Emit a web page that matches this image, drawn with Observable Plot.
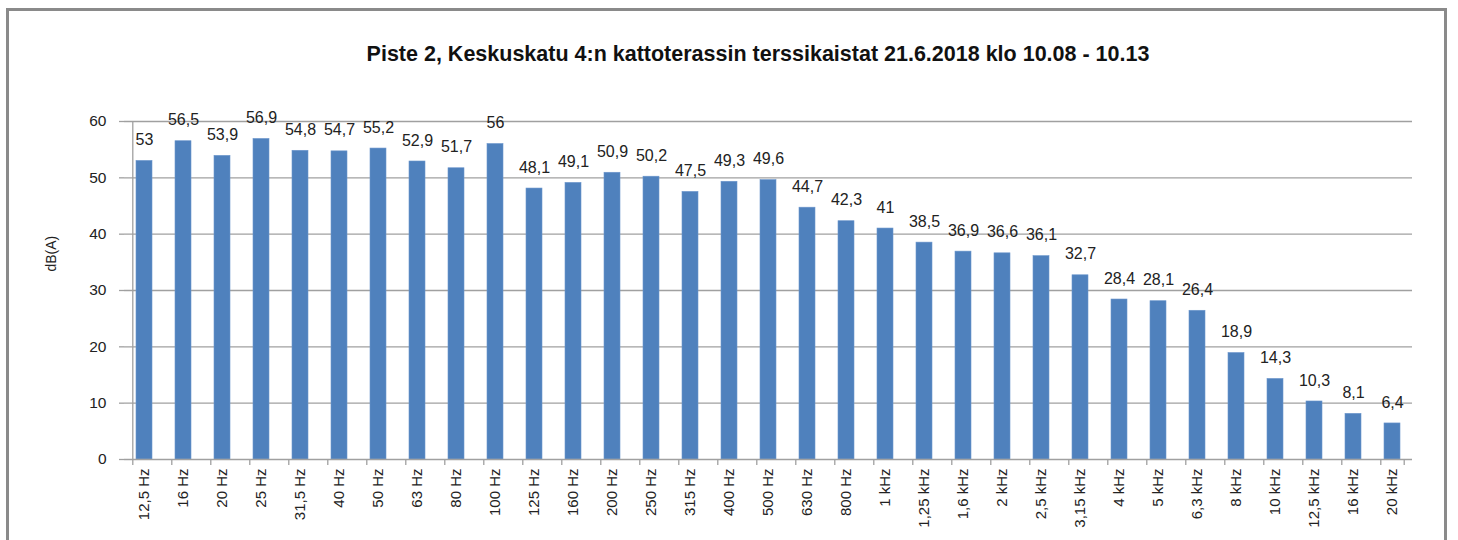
<!DOCTYPE html>
<html><head><meta charset="utf-8">
<script src="https://cdn.jsdelivr.net/npm/d3@7"></script>
<script src="https://cdn.jsdelivr.net/npm/@observablehq/plot@0.6"></script>
<style>
body{margin:0;background:#fff;overflow:hidden;}
#wrap{position:relative;width:1458px;height:540px;}
#frame{position:absolute;left:6px;top:8px;width:1441px;height:600px;border:3px solid #8a8a8a;border-bottom:none;box-sizing:border-box;}
#title{position:absolute;left:0;width:1516px;top:42px;text-align:center;font:bold 21.5px "Liberation Sans",sans-serif;color:#111;white-space:nowrap;}
#chart{position:absolute;left:0;top:0;}
</style></head>
<body><div id="wrap"><div id="frame"></div><div id="title">Piste 2, Keskuskatu 4:n kattoterassin terssikaistat 21.6.2018 klo 10.08 - 10.13</div><div id="chart"></div></div>
<script>
const categories = ["12,5 Hz","16 Hz","20 Hz","25 Hz","31,5 Hz","40 Hz","50 Hz","63 Hz","80 Hz","100 Hz","125 Hz","160 Hz","200 Hz","250 Hz","315 Hz","400 Hz","500 Hz","630 Hz","800 Hz","1 kHz","1,25 kHz","1,6 kHz","2 kHz","2,5 kHz","3,15 kHz","4 kHz","5 kHz","6,3 kHz","8 kHz","10 kHz","12,5 kHz","16 kHz","20 kHz"];
const values = [53,56.5,53.9,56.9,54.8,54.7,55.2,52.9,51.7,56,48.1,49.1,50.9,50.2,47.5,49.3,49.6,44.7,42.3,41,38.5,36.9,36.6,36.1,32.7,28.4,28.1,26.4,18.9,14.3,10.3,8.1,6.4];
const yTicks = [0,10,20,30,40,50,60];
const yLabel = "dB(A)";

const data = categories.map((c,i)=>({cat:c, v:values[i]}));
const W = 1458, H = 540, mL = 124, mR = 46, mT = 121, mB = 81;
const step = (W - mL - mR) / categories.length;
const off = 0.3 * step;
const fmt = v => String(v).replace(".", ",");
const font = '"Liberation Sans", sans-serif';

const chart = Plot.plot({
  width: W, height: H,
  marginLeft: mL, marginRight: mR, marginTop: mT, marginBottom: mB,
  style: {fontFamily: font, background: "transparent", color: "#222"},
  x: {domain: categories, paddingInner: 0.6, paddingOuter: 0.3, label: null},
  y: {domain: [0, 60], label: null},
  marks: [
    Plot.gridY(yTicks.filter(t=>t>0), {stroke: "#a0a0a0", strokeOpacity: 1, strokeWidth: 1.3}),
    Plot.barY(data, {x: "cat", y: "v", fill: "#4f81bd", stroke: "#6c96cc", strokeWidth: 0.6}),
    Plot.text(data, {x: "cat", y: "v", text: d => fmt(d.v), dy: -21, lineAnchor: "middle", fontSize: 16, fill: "#222"}),
    Plot.ruleY([0], {stroke: "#a0a0a0", strokeWidth: 1.3}),
    Plot.ruleX([categories[0]], {x: d=>d, y1: 0, y2: 60, dx: -off, stroke: "#a0a0a0", strokeWidth: 1.3}),
    Plot.ruleX(categories, {x: d=>d, y1: 0, y2: 0, insetBottom: -6, dx: -off, stroke: "#a0a0a0", strokeWidth: 1.3}),
    Plot.ruleX([categories[categories.length-1]], {x: d=>d, y1: 0, y2: 0, insetBottom: -6, dx: off, stroke: "#a0a0a0", strokeWidth: 1.3}),
    Plot.axisY(yTicks, {tickSize: 5, tickPadding: 13, fontSize: 15.5, stroke: "#a0a0a0", strokeWidth: 1.3, label: null, fill: "#222"}),
    Plot.axisX({tickSize: 0, tickPadding: 9, tickRotate: -90, fontSize: 15, label: null, fill: "#222"}),
    Plot.text([yLabel], {frameAnchor: "left", dx: -73, dy: -19, rotate: -90, fontSize: 14, fill: "#222", text: d=>d})
  ]
});
document.getElementById("chart").appendChild(chart);
</script></body></html>
